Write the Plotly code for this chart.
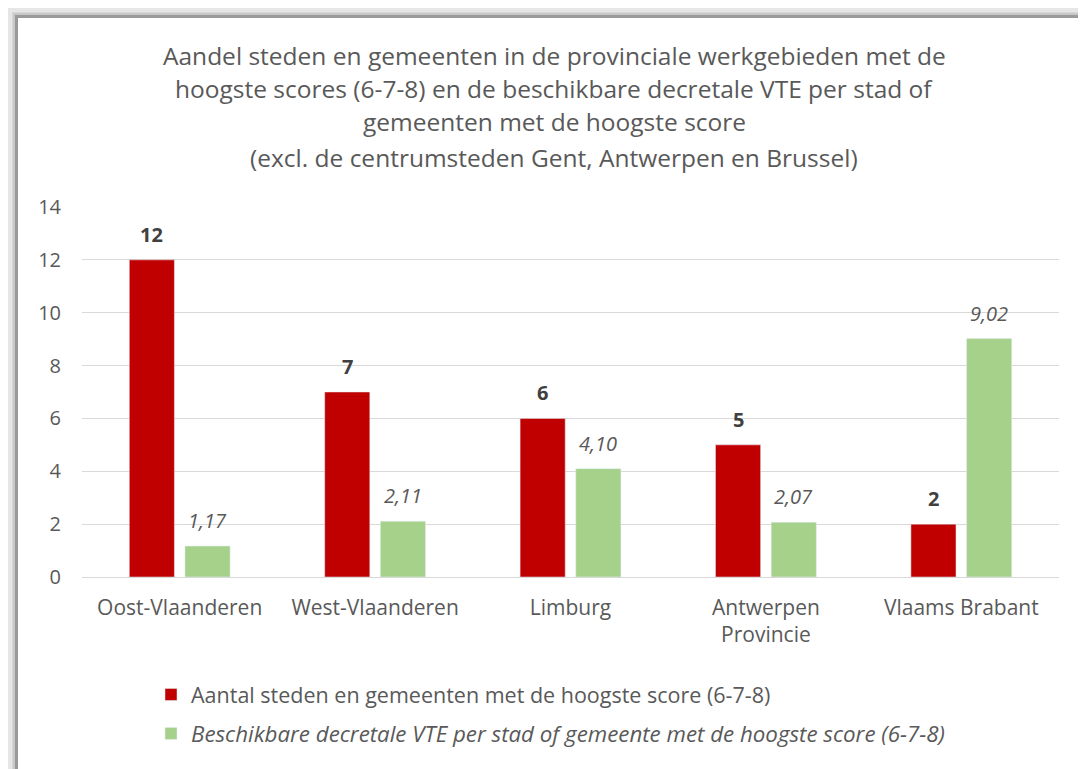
import plotly.graph_objects as go

categories = ["Oost-Vlaanderen", "West-Vlaanderen", "Limburg", "Antwerpen<br>Provincie", "Vlaams Brabant"]
aantal = [12, 7, 6, 5, 2]
vte = [1.17, 2.11, 4.10, 2.07, 9.02]
name_aantal = "Aantal steden en gemeenten met de hoogste score (6-7-8)"
name_vte = "Beschikbare decretale VTE per stad of gemeente met de hoogste score (6-7-8)"
title_lines = [
    "Aandel steden en gemeenten in de provinciale werkgebieden met de",
    "hoogste scores (6-7-8) en de beschikbare decretale VTE per stad of",
    "gemeenten met de hoogste score",
    "(excl. de centrumsteden Gent, Antwerpen en Brussel)",
]

FONT = "Open Sans"
GREY = "#595959"
RED = "#C00000"
GREEN = "#A5D18A"

OFF = 8  # page body margin
W, H = 1086 - OFF, 769 - OFF
L, R, T, B = 82 - OFF, 1059 - OFF, 207 - OFF, 577 - OFF

def px(x):
    return (x - OFF - L) / (R - L)

def py(y):
    return (B - (y - OFF)) / (B - T)

fig = go.Figure()
fig.add_trace(go.Bar(x=categories, y=aantal, name=name_aantal, marker_color=RED,
                     legendgroup="a"))
fig.add_trace(go.Bar(x=categories, y=vte,
                     name="<span style='font-size:22.3px'><i>" + name_vte + "</i></span>",
                     marker_color=GREEN, legendgroup="b"))

annotations = []
slot = (R - L) / len(categories) * (1 - 0.43) / 2
for c, v in zip(categories, aantal):
    annotations.append(dict(x=c, y=v, xref="x", yref="y", text=f"<b>{v}</b>", showarrow=False,
                            xshift=-slot / 2, yshift=10, yanchor="bottom",
                            font=dict(family=FONT, size=20, color="#404040")))
for c, v in zip(categories, vte):
    annotations.append(dict(x=c, y=v, xref="x", yref="y",
                            text="<i>" + f"{v:.2f}".replace(".", ",") + "</i>", showarrow=False,
                            xshift=slot / 2, yshift=10, yanchor="bottom",
                            font=dict(family=FONT, size=20, color=GREY)))
title_y = [55, 89, 122, 157]
for t, yy in zip(title_lines, title_y):
    annotations.append(dict(x=px(554), y=py(yy), xref="paper", yref="paper", text=t,
                            showarrow=False, xanchor="center", yanchor="middle",
                            font=dict(family=FONT, size=24.5, color=GREY)))

shapes = [
    dict(type="rect", xref="paper", yref="paper", x0=px(10), y0=py(10), x1=px(1120), y1=py(800),
         line=dict(color="#E6E6E6", width=6), fillcolor="rgba(0,0,0,0)", layer="below"),
    dict(type="rect", xref="paper", yref="paper", x0=px(14), y0=py(14), x1=px(1110), y1=py(790),
         line=dict(color="#C8C8C8", width=3), fillcolor="rgba(0,0,0,0)", layer="below"),
    dict(type="rect", xref="paper", yref="paper", x0=px(16.5), y0=py(16.5), x1=px(1100), y1=py(780),
         line=dict(color="#9A9A9A", width=3), fillcolor="white", layer="below"),
]

fig.update_layout(
    width=W, height=H,
    margin=dict(l=L, r=W - R, t=T, b=H - B, autoexpand=False),
    paper_bgcolor="white", plot_bgcolor="rgba(0,0,0,0)",
    barmode="group", bargap=0.43, bargroupgap=0.19,
    font=dict(family=FONT, color=GREY, size=21),
    showlegend=True,
    legend=dict(orientation="v", x=px(151), y=py(674), xanchor="left", yanchor="top",
                xref="paper", yref="paper", traceorder="grouped", tracegroupgap=8,
                font=dict(family=FONT, size=21.5, color=GREY), bgcolor="rgba(0,0,0,0)"),
    annotations=annotations,
    shapes=shapes,
)
fig.update_yaxes(range=[0, 14], dtick=2, showgrid=True, gridcolor="#D9D9D9", gridwidth=1,
                 zeroline=True, zerolinecolor="#D9D9D9", zerolinewidth=1, showline=False,
                 tickfont=dict(family=FONT, size=20, color=GREY), ticks="", ticklabelstandoff=20)
fig.update_xaxes(showgrid=False, showline=False, ticks="",
                 tickfont=dict(family=FONT, size=21, color=GREY), ticklabelstandoff=16)

fig.write_html("out.html")
